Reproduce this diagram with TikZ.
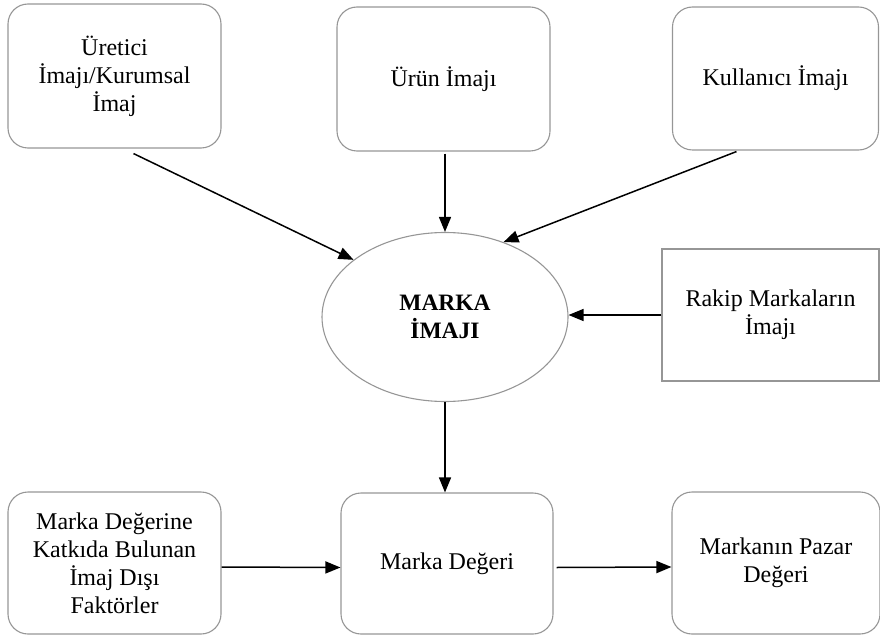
\documentclass[tikz,border=0pt]{standalone}
\usepackage{fontspec}
\setmainfont{Liberation Serif}
\usetikzlibrary{arrows.meta,shapes.geometric,calc}
\definecolor{boxline}{RGB}{150,150,150}
\tikzset{
  box/.style={draw=boxline, line width=1.1pt, rounded corners=20pt, align=center,
    font=\fontsize{24}{28}\selectfont, inner sep=4pt},
  plainbox/.style={draw=boxline, line width=1.1pt, align=center,
    font=\fontsize{24}{28}\selectfont, inner sep=4pt},
  hub/.style={draw=boxline, line width=1.1pt, ellipse, align=center,
    font=\fontsize{23.5}{28}\selectfont\bfseries, inner sep=0pt},
  link/.style={line width=1.5pt, -{Triangle[length=15pt,width=12pt]}}
}
\begin{document}
\begin{tikzpicture}[x=1pt,y=-1pt]
  \useasboundingbox (0,0) rectangle (880,636);

  % image sources
  \node[box, minimum width=213pt, minimum height=144pt] (u) at (114.5,76) {Üretici\\İmajı/Kurumsal\\İmaj};
  \node[box, minimum width=213pt, minimum height=144pt] (r) at (443.5,79) {Ürün İmajı};
  \node[box, minimum width=206pt, minimum height=143pt] (k) at (775.5,78.5) {Kullanıcı İmajı};

  % central brand image
  \node[hub, minimum width=246pt, minimum height=169pt] (e) at (445,317) {MARKA\\İMAJI};
  \node[plainbox, minimum width=217pt, minimum height=132pt] (rak) at (770.5,315) {Rakip Markaların\\İmajı};

  % value chain
  \node[box, minimum width=213pt, minimum height=142pt] (f) at (114.5,563) {Marka Değerine\\Katkıda Bulunan\\İmaj Dışı\\Faktörler};
  \node[box, minimum width=212pt, minimum height=141pt] (d) at (447,563.5) {Marka Değeri};
  \node[box, minimum width=208pt, minimum height=142pt] (p) at (776,563) {Markanın Pazar\\Değeri};

  % connectors
  \coordinate (us) at ($(u.south)+(19,5)$);
  \coordinate (ks) at ($(k.south)+(-39,1)$);
  \draw[link] (us) -- (e.148);
  \draw[link] (e.north |- r.south) ++(0,2) -- (e.north);
  \draw[link] (ks) -- (e.52);
  \draw[link] (rak.west) -- (e.east |- rak.west);
  \draw[link] (e.south) -- (e.south |- d.north);
  \draw[link] ([yshift=-4pt]f.east) -- ([yshift=-4pt]d.west);
  \draw[link] ([xshift=3pt,yshift=-4pt]d.east) -- ([yshift=-4pt]p.west);
\end{tikzpicture}
\end{document}
